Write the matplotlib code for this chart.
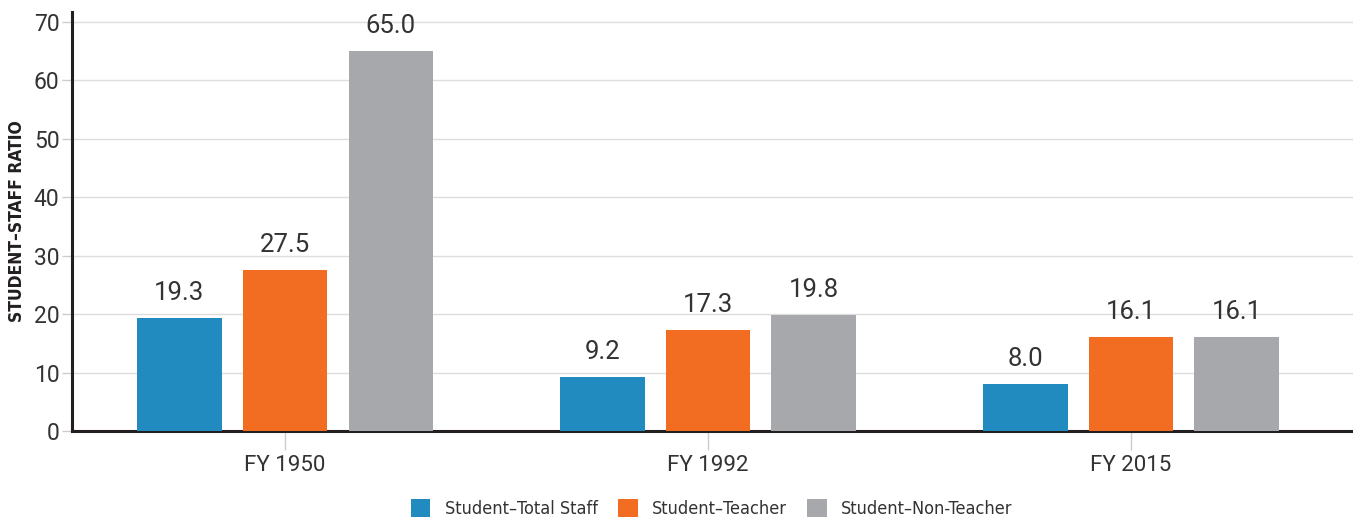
import matplotlib.pyplot as plt
import numpy as np
from matplotlib.patches import Patch
from matplotlib import font_manager

years = ["FY 1950", "FY 1992", "FY 2015"]
series_names = ["Student\u2013Total Staff", "Student\u2013Teacher", "Student\u2013Non-Teacher"]
total_staff = [19.3, 9.2, 8.0]
teacher = [27.5, 17.3, 16.1]
non_teacher = [65.0, 19.8, 16.1]
colors = ["#218bbf", "#f26c22", "#a7a8ab"]
yticks = [0, 10, 20, 30, 40, 50, 60, 70]

TEXT = "#333333"
NUM_FONT = ["Roboto", "DejaVu Sans"]


def narrow_props(size, weight="normal"):
    return font_manager.FontProperties(family="DejaVu Sans", stretch="condensed",
                                       weight=weight, size=size)


def main() -> None:
    fig = plt.figure(figsize=(13.53, 5.19), dpi=100)
    ax = fig.add_axes([72 / 1353, 88 / 519, 1 - 72 / 1353, 419 / 519])

    x = np.arange(len(years))
    width = 0.2
    offset = 0.25
    for i, (vals, col) in enumerate(zip([total_staff, teacher, non_teacher], colors)):
        bars = ax.bar(x + (i - 1) * offset, vals, width, color=col, zorder=3)
        for b, v in zip(bars, vals):
            ax.text(b.get_x() + b.get_width() / 2, v + 2.2, f"{v:.1f}",
                    ha="center", va="bottom", fontsize=18.5, color=TEXT,
                    family=NUM_FONT)

    ax.set_xlim(-0.504, 2.525)
    ax.set_ylim(0, 71.7)
    ax.set_yticks(yticks)
    ax.set_xticks(x)
    ax.set_xticklabels(years, family=NUM_FONT, fontsize=16, color=TEXT)
    for lab in ax.get_yticklabels():
        lab.set_family(NUM_FONT)
        lab.set_fontsize(16.5)
        lab.set_color(TEXT)
    ax.tick_params(axis="y", length=7, color="#cccccc", width=1, pad=2)
    ax.tick_params(axis="x", length=14, color="#cccccc", width=1, pad=3)
    ax.yaxis.grid(True, color="#dddddd", linewidth=1, zorder=0)
    ax.set_axisbelow(True)

    for side in ("top", "right"):
        ax.spines[side].set_visible(False)
    ax.spines["left"].set_linewidth(2.2)
    ax.spines["bottom"].set_linewidth(2.2)
    ax.spines["left"].set_color("#231f20")
    ax.spines["bottom"].set_color("#231f20")

    ax.set_ylabel("STUDENT\u2013STAFF RATIO", fontproperties=narrow_props(12.5, "bold"),
                  color="#231f20", labelpad=6)

    handles = [Patch(facecolor=c, edgecolor="none") for c in colors]
    fig.legend(handles, series_names, loc="center", bbox_to_anchor=(0.526, 0.02),
               ncol=3, frameon=False, prop=narrow_props(13),
               handlelength=1.1, handleheight=1.1, handletextpad=0.8,
               columnspacing=1.1, labelcolor=TEXT)

    fig.savefig("out.png", dpi=100)


if __name__ == "__main__":
    main()
